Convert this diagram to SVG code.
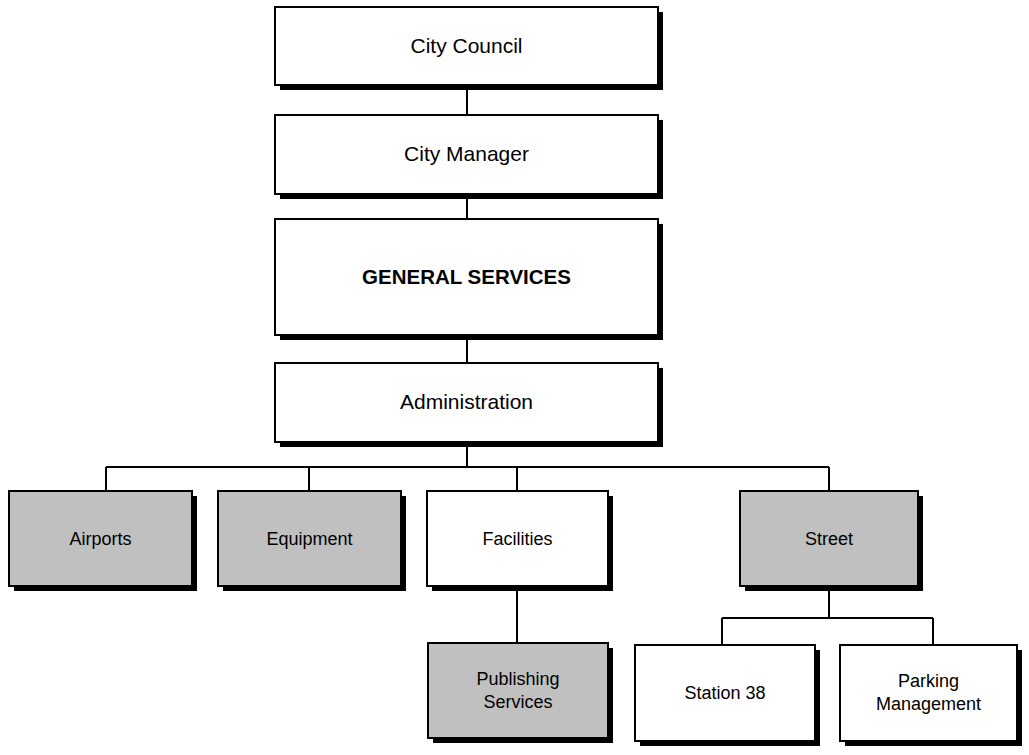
<svg xmlns="http://www.w3.org/2000/svg" width="1029" height="755" viewBox="0 0 1029 755">
<style>
.box{stroke:#000;stroke-width:2;fill:#fff}
.gray{fill:#c0c0c0}
.sh{fill:#000}
.t{font-family:"Liberation Sans",Arial,sans-serif;font-size:21px;fill:#000;text-anchor:middle}
.s{font-size:18px}
.b{font-weight:bold;font-size:20.5px}
.c{stroke:#000;stroke-width:2;fill:none}
</style>
<rect width="1029" height="755" fill="#fff"/>
<g id="connectors">
<path class="c" d="M467 86V115M467 194V219M467 335V363M467 442V467M106 467H829M106 467V491M309 467V491M517 467V491M829 467V491M517 586V643M829 586V618M722 618H933M722 618V645M933 618V645"/>
</g>
<g id="city-council">
<rect class="sh" x="280" y="12" width="383" height="78"/>
<rect class="box" x="275" y="7" width="383" height="78"/>
<text class="t" x="466.5" y="53">City Council</text>
</g>
<g id="city-manager">
<rect class="sh" x="280" y="120" width="383" height="79"/>
<rect class="box" x="275" y="115" width="383" height="79"/>
<text class="t" x="466.5" y="161">City Manager</text>
</g>
<g id="general-services">
<rect class="sh" x="280" y="224" width="383" height="116"/>
<rect class="box" x="275" y="219" width="383" height="116"/>
<text class="t b" x="466.5" y="284">GENERAL SERVICES</text>
</g>
<g id="administration">
<rect class="sh" x="280" y="368" width="383" height="79"/>
<rect class="box" x="275" y="363" width="383" height="79"/>
<text class="t" x="466.5" y="409">Administration</text>
</g>
<g id="airports">
<rect class="sh" x="14" y="496" width="183" height="95"/>
<rect class="box gray" x="9" y="491" width="183" height="95"/>
<text class="t s" x="100.5" y="545">Airports</text>
</g>
<g id="equipment">
<rect class="sh" x="223" y="496" width="183" height="95"/>
<rect class="box gray" x="218" y="491" width="183" height="95"/>
<text class="t s" x="309.5" y="545">Equipment</text>
</g>
<g id="facilities">
<rect class="sh" x="432" y="496" width="181" height="95"/>
<rect class="box" x="427" y="491" width="181" height="95"/>
<text class="t s" x="517.5" y="545">Facilities</text>
</g>
<g id="street">
<rect class="sh" x="745" y="496" width="178" height="95"/>
<rect class="box gray" x="740" y="491" width="178" height="95"/>
<text class="t s" x="829" y="545">Street</text>
</g>
<g id="publishing-services">
<rect class="sh" x="433" y="648" width="180" height="95"/>
<rect class="box gray" x="428" y="643" width="180" height="95"/>
<text class="t s" x="518" y="685">Publishing</text>
<text class="t s" x="518" y="708">Services</text>
</g>
<g id="station-38">
<rect class="sh" x="640" y="650" width="180" height="96"/>
<rect class="box" x="635" y="645" width="180" height="96"/>
<text class="t s" x="725" y="699">Station 38</text>
</g>
<g id="parking-management">
<rect class="sh" x="845" y="650" width="177" height="96"/>
<rect class="box" x="840" y="645" width="177" height="96"/>
<text class="t s" x="928.5" y="687">Parking</text>
<text class="t s" x="928.5" y="710">Management</text>
</g>
</svg>
